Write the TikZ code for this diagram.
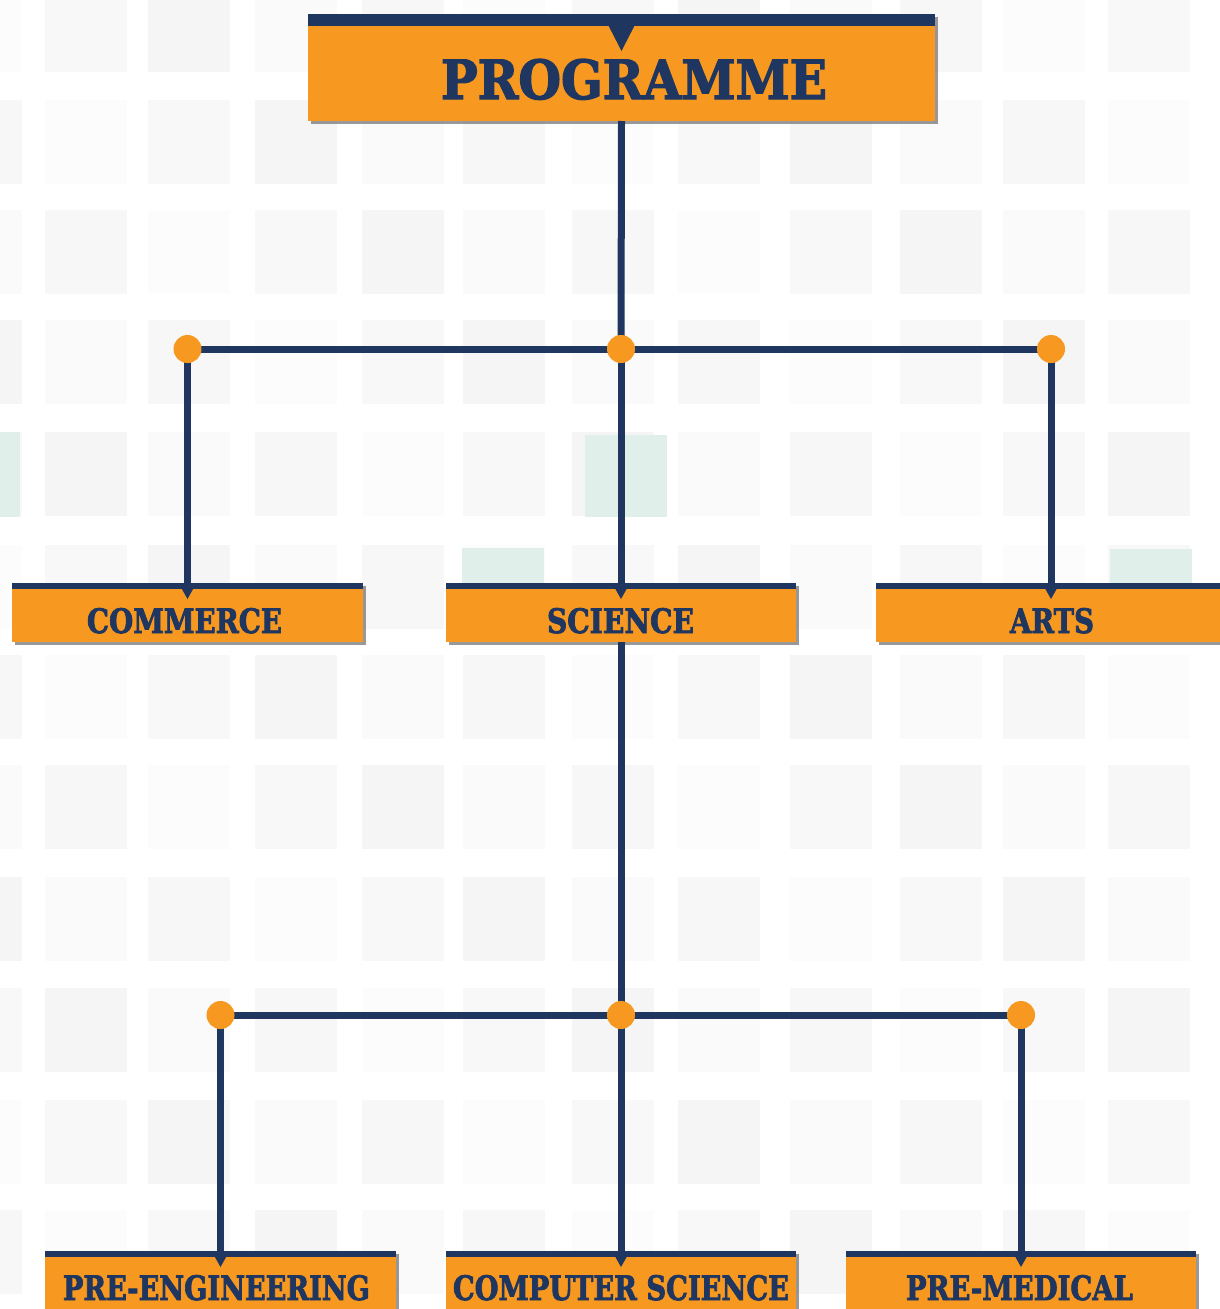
\documentclass[tikz,border=0pt]{standalone}
\usepackage{fontspec}
\newfontfamily\slab{DejaVu Serif Bold}[FakeBold=2.5]
\definecolor{navy}{RGB}{30,54,96}
\definecolor{orng}{RGB}{247,153,33}
\definecolor{teal}{RGB}{225,239,235}
\definecolor{shadowc}{RGB}{110,110,110}
\newcommand{\fittext}[3]{\resizebox{#1pt}{#2pt}{\slab #3}}
% \orgbox{name}{x1}{y1}{x2}{y2}{strip}{tri half width}{tri depth}
\newcommand{\orgbox}[8]{%
  \fill[shadowc,opacity=0.7] (#2+3,#3+3) rectangle (#4+3,#5+3);
  \node[fill=orng,inner sep=0pt,outer sep=0pt,minimum width={(#4-#2)*1pt},minimum height={(#5-#3)*1pt},anchor=north west] (#1) at (#2,#3) {};
  \fill[navy] (#1.north west) rectangle ([yshift=-#6pt]#1.north east);
  \fill[navy] ([xshift=-#7pt]#1.north) -- ([xshift=#7pt]#1.north) -- ([yshift=-#8pt]#1.north) -- cycle;
}
\tikzset{
  conn/.style={draw=navy,line width=7pt},
  dot/.style={circle,fill=orng,minimum size=28pt,inner sep=0pt},
  lbl/.style={inner sep=0pt,outer sep=0pt,anchor=base,text=navy},
}
\begin{document}
\begin{tikzpicture}[x=1pt,y=-1pt]
\useasboundingbox (0,0) rectangle (1219,1309);
\fill[white] (0,0) rectangle (1219,1309);
% background squares
\foreach \cx [count=\i] in {-60,45,148,255,362,463,572,678,790,900,1003,1108}{
  \foreach \cy [count=\j] in {-12,100,210,320,432,545,655,765,877,988,1100,1210}{
    \pgfmathsetmacro\s{1.2+0.7*mod(\i*7+\j*3,5)}
    \fill[black!\s] (\cx,\cy) rectangle ++(82,84);
  }
}
\fill[teal] (-60,432) rectangle ++(80,85);
\fill[teal] (585,435) rectangle ++(82,82);
\fill[teal] (462,548) rectangle ++(82,40);
\fill[teal] (1110,549) rectangle ++(82,40);
% boxes
\orgbox{programme}{308}{14}{935}{121}{12}{19}{37}
\orgbox{commerce}{12}{583}{363}{642}{6}{9}{16}
\orgbox{science}{446}{583}{796}{642}{6}{9}{16}
\orgbox{arts}{876}{583}{1226}{642}{6}{9}{16}
\orgbox{preeng}{45}{1251}{396}{1315}{6}{9}{16}
\orgbox{compsci}{446}{1251}{796}{1315}{6}{9}{16}
\orgbox{premed}{846}{1251}{1196}{1315}{6}{9}{16}
% labels
\node[lbl] (tprog) at (634,99) {\fittext{386}{40}{PROGRAMME}};
\node[lbl] (tcom) at (184.5,633) {\fittext{195}{25}{COMMERCE}};
\node[lbl] (tsci) at (620.5,633) {\fittext{147}{25}{SCIENCE}};
\node[lbl] (tarts) at (1052,633) {\fittext{84}{25}{ARTS}};
\node[lbl] (tpe) at (216.5,1300) {\fittext{307}{25}{PRE-ENGINEERING}};
\node[lbl] (tcs) at (621,1300) {\fittext{336}{25}{COMPUTER SCIENCE}};
\node[lbl] (tpm) at (1019.5,1300) {\fittext{227}{25}{PRE-MEDICAL}};
% junctions
\coordinate (j1) at (621,349);
\coordinate (j1l) at (187.5,349);
\coordinate (j1r) at (1051,349);
\coordinate (j2) at (621,1015);
\coordinate (j2l) at (220.5,1015);
\coordinate (j2r) at (1021,1015);
% connectors
\draw[conn] (programme.south) -- (j1);
\draw[conn] (j1l) -- (j1r);
\draw[conn] (j1l) -- (commerce.north);
\draw[conn] (j1) -- (science.north);
\draw[conn] (j1r) -- (arts.north);
\draw[conn] (science.south) -- (j2);
\draw[conn] (j2l) -- (j2r);
\draw[conn] (j2l) -- (preeng.north);
\draw[conn] (j2) -- (compsci.north);
\draw[conn] (j2r) -- (premed.north);
\foreach \d in {j1,j1l,j1r,j2,j2l,j2r}{\node[dot] at (\d) {};}
\end{tikzpicture}
\end{document}
